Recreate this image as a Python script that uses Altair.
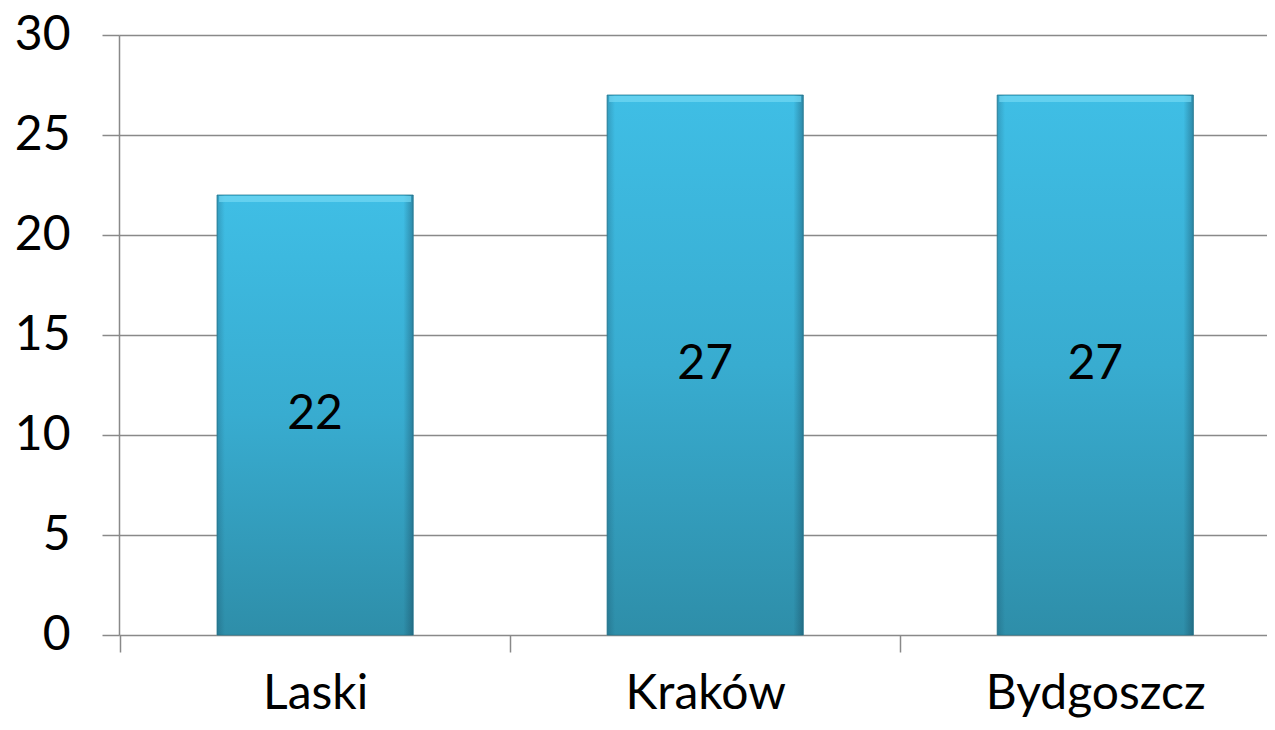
import altair as alt
import pandas as pd

categories = ["Laski", "Kraków", "Bydgoszcz"]
values = [22, 27, 27]
y_ticks = [0, 5, 10, 15, 20, 25, 30]

df = pd.DataFrame({"miasto": categories, "wartosc": values})
df["polowa"] = df["wartosc"] / 2

FONT = "Lato"
GRID = "#898989"
HALF_STEP = 195

x_enc = alt.X(
    "miasto:N",
    sort=categories,
    scale=alt.Scale(paddingInner=0.497, paddingOuter=0.22, align=0.571),
    axis=alt.Axis(
        title=None, labelAngle=0, labelFont=FONT, labelFontSize=48,
        labelColor="#000000", labelPadding=18, labelLimit=0,
        tickOffset=-HALF_STEP, labelOffset=HALF_STEP,
        tickSize=17, tickColor=GRID, tickWidth=1.5, domain=False, grid=False,
    ),
)
y_scale = alt.Scale(domain=[0, 30], nice=False)
y_axis = alt.Axis(
    title=None, values=y_ticks, labelFont=FONT, labelFontSize=48,
    labelColor="#000000", labelPadding=32, tickSize=17, tickColor=GRID,
    tickWidth=1.5, domainColor=GRID, domainWidth=1.5, gridColor=GRID,
    gridWidth=1.5,
)

fill_grad = alt.Gradient(
    gradient="linear",
    stops=[
        alt.GradientStop(color="#3fbee5", offset=0),
        alt.GradientStop(color="#38acd0", offset=0.5),
        alt.GradientStop(color="#2e8ea9", offset=1),
    ],
    x1=0, x2=0, y1=0, y2=1,
)
side_grad = alt.Gradient(
    gradient="linear",
    stops=[
        alt.GradientStop(color="rgba(20,60,80,0.25)", offset=0),
        alt.GradientStop(color="rgba(20,60,80,0)", offset=0.04),
        alt.GradientStop(color="rgba(20,60,80,0)", offset=0.95),
        alt.GradientStop(color="rgba(20,60,80,0.4)", offset=1),
    ],
    x1=0, x2=1, y1=0, y2=0,
)

base = alt.Chart(df)

bars = base.mark_bar(fill=fill_grad, stroke="#2a7f96", strokeWidth=0.8).encode(
    x=x_enc,
    y=alt.Y("wartosc:Q", scale=y_scale, axis=y_axis),
)
sides = base.mark_bar(fill=side_grad).encode(
    x=alt.X("miasto:N", sort=categories),
    y=alt.Y("wartosc:Q"),
)
top_strip = base.mark_tick(color="#74d9f3", thickness=6, size=192, yOffset=4).encode(
    x=alt.X("miasto:N", sort=categories),
    y=alt.Y("wartosc:Q"),
)
labels = base.mark_text(font=FONT, fontSize=48, color="#000000", baseline="middle").encode(
    x=alt.X("miasto:N", sort=categories),
    y=alt.Y("polowa:Q"),
    text=alt.Text("wartosc:Q"),
)

chart = (
    alt.layer(bars, sides, top_strip, labels)
    .properties(
        width=1148, height=600,
        autosize=alt.AutoSizeParams(type="none"),
        padding={"left": 111, "top": 27, "right": 0, "bottom": 87},
    )
    .configure_view(stroke=None)
    .configure(background="#ffffff")
)

chart.save("out.html", embed_options={"renderer": "svg", "actions": False})
